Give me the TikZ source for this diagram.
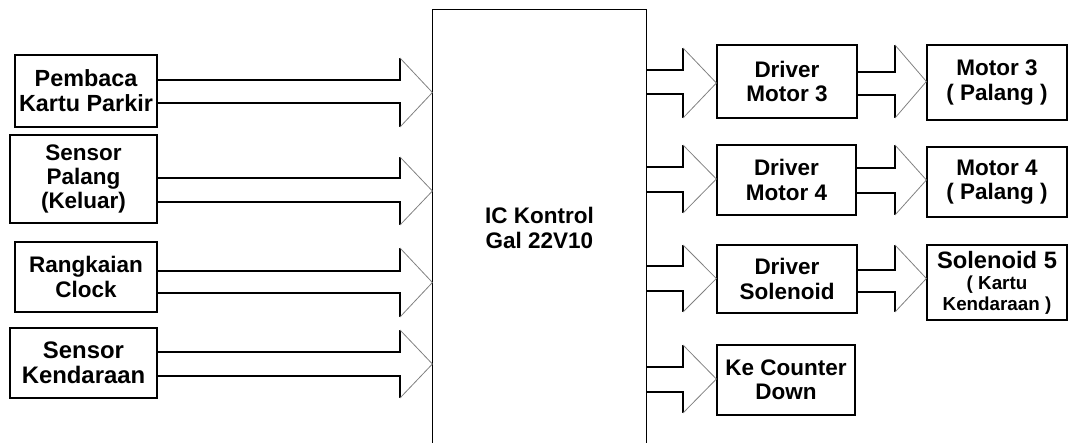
\documentclass[tikz,border=0pt]{standalone}
\usepackage{fontspec}
\setmainfont{Liberation Sans}
\usetikzlibrary{calc}

\newcommand\kecil{\fontsize{10.7}{12}\selectfont}

\tikzset{
  blok/.style={draw,line width=.7pt,align=center,inner sep=2pt,
    font=\bfseries\fontsize{12.8}{13.8}\selectfont},
  garis/.style={line width=.7pt},
  miring/.style={line width=.45pt,gray},
}

\begin{document}
\begin{tikzpicture}[x=.02cm,y=-.02cm]
\useasboundingbox (0,0) rectangle (1069,443);
% blok masukan
\node[blok,font=\bfseries\fontsize{13.3}{14.2}\selectfont,minimum width=2.84cm,minimum height=1.44cm] (pk) at (86,91) {Pembaca\\Kartu Parkir};
\node[blok,minimum width=2.94cm,minimum height=1.76cm] (sp) at (83.5,179) {Sensor\\Palang\\(Keluar)};
\node[blok,minimum width=2.84cm,minimum height=1.40cm] (rc) at (86,277) {Rangkaian\\Clock};
\node[blok,font=\bfseries\fontsize{13.6}{14}\selectfont,minimum width=2.94cm,minimum height=1.40cm] (sk) at (83.5,363) {Sensor\\Kendaraan};
% IC kontrol (terbuka di bawah)
\node[blok,draw=none,minimum width=4.26cm,minimum height=8.72cm] (ic) at (539.5,228) {IC Kontrol\\Gal 22V10};
\draw[garis] (ic.west |- 0,443) -- (ic.north west) -- (ic.north east) -- (ic.east |- 0,443);
% blok keluaran
\node[blok,minimum width=2.80cm,minimum height=1.46cm] (dm3) at (787,81.5) {Driver\\Motor 3};
\node[blok,minimum width=2.78cm,minimum height=1.40cm] (dm4) at (786.5,180) {Driver\\Motor 4};
\node[blok,minimum width=2.80cm,minimum height=1.36cm] (ds) at (787,279) {Driver\\Solenoid};
\node[blok,minimum width=2.76cm,minimum height=1.40cm] (kc) at (786,380) {Ke Counter\\Down};
\node[blok,minimum width=2.80cm,minimum height=1.50cm] (m3) at (997,82.5) {Motor 3\\( Palang )};
\node[blok,minimum width=2.80cm,minimum height=1.40cm] (m4) at (997,182) {Motor 4\\( Palang )};
\node[blok,font=\bfseries\fontsize{13.5}{12}\selectfont,minimum width=2.80cm,minimum height=1.50cm] (s5) at (997,282.5) {Solenoid 5\\{\kecil ( Kartu}\\{\kecil Kendaraan )}};
% panah blok
\foreach \a/\b/\ya/\yb/\xs/\yt/\yu in {pk/ic/80/103/400/58/127, sp/ic/178/202/400/157/225,
  rc/ic/271/293/400/248/317, sk/ic/352/376/400/330/398,
  ic/dm3/70/94/683/48/118, ic/dm4/167/192/683/145/213,
  ic/ds/266/291/683/245/312, ic/kc/367/392/683/345/413,
  dm3/m3/72/95/895/45/118, dm4/m4/168/193/895/145/215, ds/s5/270/292/895/245/312}
{
\pgfmathsetmacro\ym{(\yt+\yu)/2}
\draw[garis] (\a.east |- 0,\ya) -- (\xs,\ya) -- (\xs,\yt);
\draw[garis] (\a.east |- 0,\yb) -- (\xs,\yb) -- (\xs,\yu);
\draw[miring] (\xs,\yt) -- (\b.west |- 0,\ym) -- (\xs,\yu);
}
\end{tikzpicture}
\end{document}
